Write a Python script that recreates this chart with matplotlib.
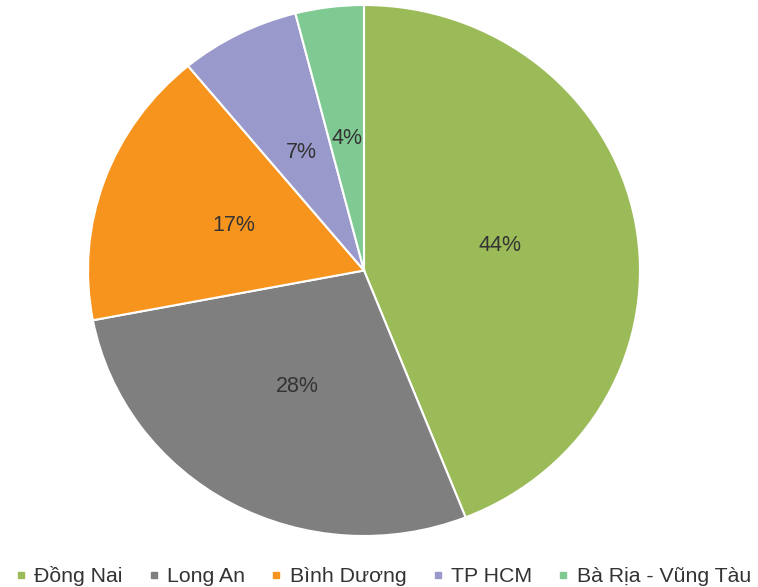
import matplotlib.pyplot as plt
from matplotlib.lines import Line2D

plt.rcParams['font.family'] = ['Liberation Sans', 'DejaVu Sans']

labels = ['Đồng Nai', 'Long An', 'Bình Dương', 'TP HCM', 'Bà Rịa - Vũng Tàu']
values = [44, 28, 17, 7, 4]
colors = ['#9BBB59', '#7F7F80', '#F7941E', '#9A99CC', '#7FCA93']

fig = plt.figure(figsize=(7.58, 5.87), dpi=100)
ax = fig.add_axes([88 / 758, (587 - 536) / 587, 552 / 758, 531 / 587])
wedges, texts, autotexts = ax.pie(values, colors=colors, startangle=90, counterclock=False,
                                  autopct='%d%%', pctdistance=0.5,
                                  wedgeprops=dict(edgecolor='white', linewidth=1.5),
                                  textprops=dict(color='#333333', fontsize=15.5))
ax.set_aspect('auto')
ax.set_xlim(-1, 1)
ax.set_ylim(-1, 1)

handles = [Line2D([], [], marker='s', linestyle='none', markersize=5,
                  markerfacecolor=c, markeredgecolor=c) for c in colors]
fig.legend(handles, labels, loc='center', bbox_to_anchor=(0.505, 1 - 576 / 587), ncol=5,
           frameon=False, fontsize=15.3, handlelength=0.6, handletextpad=0.35,
           columnspacing=1.15, borderpad=0, labelcolor='#333333')

fig.savefig('out.png', dpi=100)
